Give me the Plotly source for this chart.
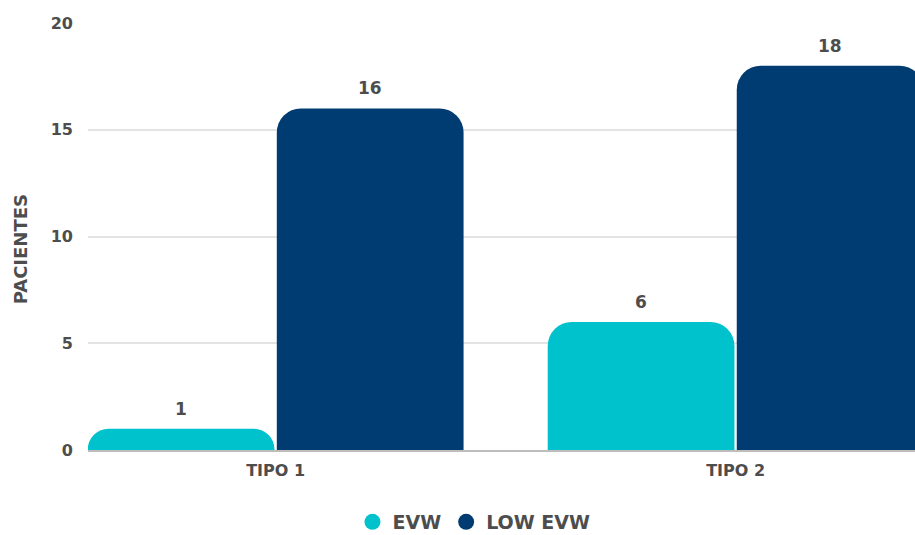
import plotly.graph_objects as go

categories = ["TIPO 1", "TIPO 2"]
evw = [1, 6]
low_evw = [16, 18]
series_names = ["EVW", "LOW EVW"]
colors = ["#00C2CC", "#003C71"]
y_ticks = [0, 5, 10, 15, 20]
y_title = "PACIENTES"

FONT = "DejaVu Sans"
TXT = "#4D4D4D"
BARGAP = 0.178
GROUPGAP = 0.012

fig = go.Figure()
for name, vals, col in zip(series_names, [evw, low_evw], colors):
    fig.add_trace(go.Bar(
        x=categories, y=vals, name=name, marker=dict(color=col, cornerradius=24, line=dict(width=0)),
        showlegend=False,
    ))
    fig.add_trace(go.Scatter(
        x=[None], y=[None], mode="markers", name=name,
        marker=dict(symbol="circle", size=24, color=col),
    ))

# value labels above each bar
nser = len(series_names)
bw = (1 - BARGAP) / nser
for s, vals in enumerate([evw, low_evw]):
    for i, v in enumerate(vals):
        xoff = i - (1 - BARGAP) / 2 + bw * (s + 0.5)
        fig.add_annotation(
            x=xoff, y=v, text=str(v), showarrow=False, yanchor="bottom", yshift=8,
            font=dict(family=FONT, size=17, color=TXT, weight="bold"),
        )

# y-axis title
fig.add_annotation(
    text=y_title, textangle=-90, showarrow=False,
    xref="paper", yref="paper", x=0, xanchor="center", xshift=-68,
    y=0.47, yanchor="middle",
    font=dict(family=FONT, size=18, color=TXT, weight="bold"),
)

fig.update_layout(
    width=915, height=535,
    margin=dict(l=88, r=0, t=23, b=85, autoexpand=False),
    paper_bgcolor="white", plot_bgcolor="white",
    barmode="group", bargap=BARGAP, bargroupgap=GROUPGAP,
    font=dict(family=FONT, color=TXT, size=15, weight="bold"),
    xaxis=dict(
        type="category", range=[-0.408, 1.39], showgrid=False, automargin=False,
        showline=True, linecolor="#BDBDBD", linewidth=1.5,
        tickfont=dict(family=FONT, size=16, color=TXT, weight="bold"),
        ticks="", ticklabelstandoff=5,
    ),
    yaxis=dict(
        range=[0, 20], tickvals=y_ticks, showgrid=True, gridcolor="#E3E3E3", gridwidth=1.5,
        zeroline=False, showline=False, ticks="", automargin=False,
        tickfont=dict(family=FONT, size=16, color=TXT, weight="bold"),
        ticklabelstandoff=14,
    ),
    legend=dict(
        orientation="h", x=0.518, xanchor="center", xref="container",
        y=13 / 535, yanchor="middle", yref="container",
        font=dict(family=FONT, size=19, color=TXT, weight="bold"),
        itemsizing="trace", itemwidth=30,
        tracegroupgap=0,
    ),
)
fig.write_html("out.html")
